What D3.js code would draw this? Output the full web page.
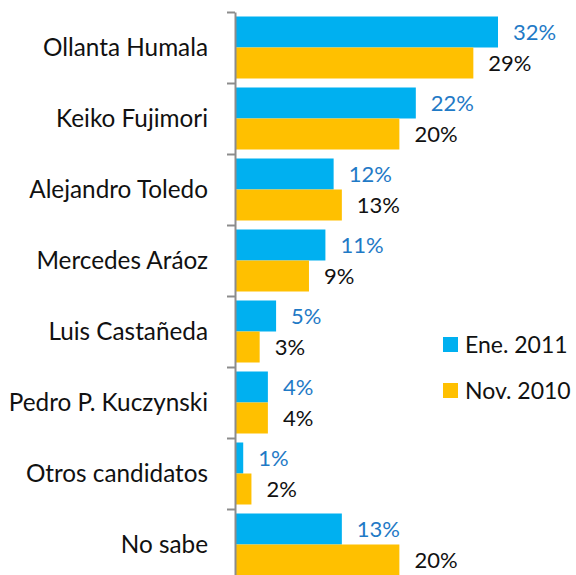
<!DOCTYPE html>
<html>
<head>
<meta charset="utf-8">
<script src="https://cdn.jsdelivr.net/npm/d3@7"></script>
<style>
  body { margin: 0; background: #fff; }
  text { font-family: Lato, "Open Sans", sans-serif; }
</style>
</head>
<body>
<div id="chart"></div>
<script>
// candidates, top to bottom
var candidatos = ["Ollanta Humala", "Keiko Fujimori", "Alejandro Toledo", "Mercedes Aráoz",
                  "Luis Castañeda", "Pedro P. Kuczynski", "Otros candidatos", "No sabe"];
var ene2011 = [32, 22, 12, 11, 5, 4, 1, 13];
var nov2010 = [29, 20, 13, 9, 3, 4, 2, 20];
var series = ["Ene. 2011", "Nov. 2010"];
var colores = ["#00b0f0", "#ffc000"];
var colorEtiqueta = ["#1f7ac6", "#111111"];

var width = 576, height = 575;
var x0 = 235;

var svg = d3.select("#chart").append("svg")
    .attr("width", width)
    .attr("height", height);

var x = d3.scaleLinear()
    .domain([0, 32])
    .range([x0, x0 + 263]);

var y = d3.scaleBand()
    .domain(candidatos)
    .range([12, 12 + 71 * candidatos.length])
    .padding(0);

// the two bars inside each band
var ySub = d3.scaleBand()
    .domain(series)
    .range([4.5, y.bandwidth() - 4.5])
    .padding(0);

var data = candidatos.map(function(c, i) {
    return {nombre: c, valores: [ene2011[i], nov2010[i]]};
});

var grupos = svg.selectAll("g.cand")
    .data(data)
    .enter().append("g")
    .attr("class", "cand")
    .attr("transform", function(d) { return "translate(0," + y(d.nombre) + ")"; });

grupos.selectAll("rect")
    .data(function(d) { return d.valores.map(function(v, j) { return {v: v, s: series[j], j: j}; }); })
    .enter().append("rect")
    .attr("x", x(0))
    .attr("y", function(d) { return ySub(d.s); })
    .attr("width", function(d) { return x(d.v) - x(0); })
    .attr("height", ySub.bandwidth())
    .attr("fill", function(d) { return colores[d.j]; });

grupos.selectAll("text.valor")
    .data(function(d) { return d.valores.map(function(v, j) { return {v: v, s: series[j], j: j}; }); })
    .enter().append("text")
    .attr("class", "valor")
    .attr("x", function(d) { return x(d.v) + 15; })
    .attr("y", function(d) { return ySub(d.s) + ySub.bandwidth() / 2; })
    .attr("dy", "0.35em")
    .attr("font-size", 22)
    .attr("fill", function(d) { return colorEtiqueta[d.j]; })
    .text(function(d) { return d.v + "%"; });

// category labels
grupos.append("text")
    .attr("x", 208)
    .attr("y", y.bandwidth() / 2)
    .attr("dy", "0.35em")
    .attr("text-anchor", "end")
    .attr("font-size", 24.3)
    .attr("fill", "#111")
    .text(function(d) { return d.nombre; });

// vertical axis with ticks between categories
var idx = d3.scaleLinear()
    .domain([0, candidatos.length])
    .range([y.range()[0], y.range()[1]]);

var eje = svg.append("g")
    .attr("transform", "translate(" + x0 + ",0)")
    .call(d3.axisLeft(idx).tickValues(d3.range(candidatos.length + 1)).tickSize(8).tickSizeOuter(0).tickFormat(""));
eje.selectAll("path, line").attr("stroke", "#8c8c8c").attr("stroke-width", 2);

// legend
var leyenda = svg.append("g")
    .attr("transform", "translate(443,337)");

var items = leyenda.selectAll("g")
    .data(series)
    .enter().append("g")
    .attr("transform", function(d, i) { return "translate(0," + i * 46 + ")"; });

items.append("rect")
    .attr("width", 15)
    .attr("height", 15)
    .attr("fill", function(d, i) { return colores[i]; });

items.append("text")
    .attr("x", 22)
    .attr("y", 7.5)
    .attr("dy", "0.35em")
    .attr("font-size", 23)
    .attr("fill", "#111")
    .text(function(d) { return d; });
</script>
</body>
</html>
